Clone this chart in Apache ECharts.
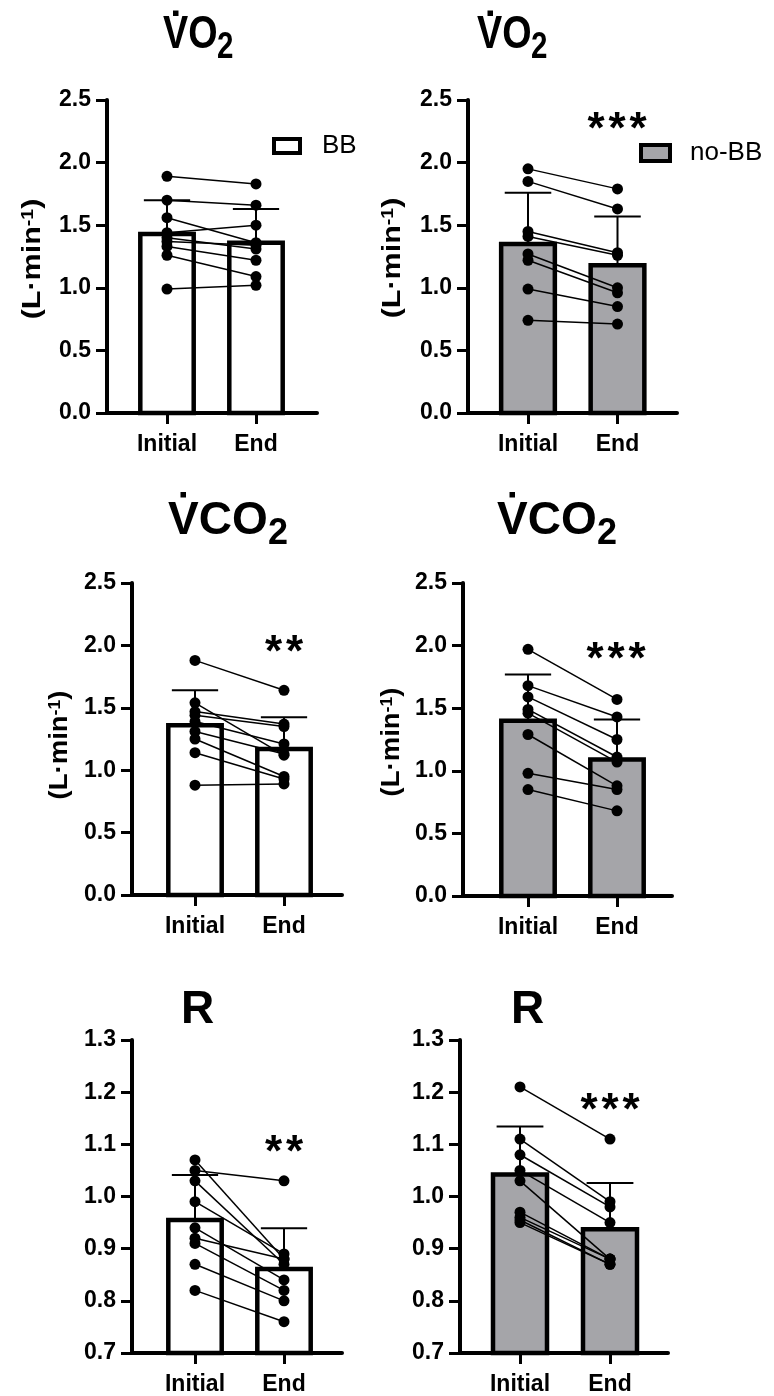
<!DOCTYPE html>
<html>
<head>
<meta charset="utf-8">
<script src="https://cdn.jsdelivr.net/npm/echarts@6/dist/echarts.min.js"></script>
<style>
  html, body { margin: 0; padding: 0; background: #fff; }
  #chart { width: 774px; height: 1396px; }
</style>
</head>
<body>
<div id="chart"></div>
<script>
// Group labels on the x axis
const categories = ['Initial', 'End'];

// V̇O2 (L·min-1), beta-blocker group
const bbVO2Initial = [1.89, 1.70, 1.56, 1.44, 1.40, 1.37, 1.33, 1.26, 0.99];
const bbVO2End     = [1.83, 1.66, 1.36, 1.50, 1.31, 1.34, 1.22, 1.09, 1.02];
const bbVO2Mean    = [1.43, 1.36];
const bbVO2SD      = [0.27, 0.27];

// V̇O2 (L·min-1), no beta-blocker group
const noBbVO2Initial = [1.95, 1.85, 1.45, 1.41, 1.27, 1.22, 0.99, 0.74];
const noBbVO2End     = [1.79, 1.63, 1.28, 1.26, 1.00, 0.96, 0.85, 0.71];
const noBbVO2Mean    = [1.35, 1.18];
const noBbVO2SD      = [0.41, 0.39];

// V̇CO2 (L·min-1), beta-blocker group
const bbVCO2Initial = [1.88, 1.54, 1.47, 1.44, 1.39, 1.31, 1.25, 1.14, 0.88];
const bbVCO2End     = [1.64, 1.12, 1.37, 1.35, 1.21, 1.13, 0.95, 0.93, 0.89];
const bbVCO2Mean    = [1.36, 1.17];
const bbVCO2SD      = [0.28, 0.255];

// V̇CO2 (L·min-1), no beta-blocker group
const noBbVCO2Initial = [1.97, 1.68, 1.59, 1.49, 1.46, 1.29, 0.98, 0.85];
const noBbVCO2End     = [1.57, 1.43, 1.25, 1.11, 1.07, 0.88, 0.85, 0.68];
const noBbVCO2Mean    = [1.40, 1.09];
const noBbVCO2SD      = [0.37, 0.32];

// Respiratory exchange ratio R, beta-blocker group
const bbRInitial = [1.07, 1.05, 1.03, 0.99, 0.94, 0.92, 0.91, 0.87, 0.82];
const bbREnd     = [0.88, 1.03, 0.87, 0.89, 0.84, 0.88, 0.82, 0.80, 0.76];
const bbRMean    = [0.955, 0.861];
const bbRSD      = [0.086, 0.078];

// Respiratory exchange ratio R, no beta-blocker group
const noBbRInitial = [1.21, 1.11, 1.08, 1.05, 1.03, 0.97, 0.96, 0.955, 0.95];
const noBbREnd     = [1.11, 0.99, 0.98, 0.95, 0.88, 0.88, 0.88, 0.87, 0.87];
const noBbRMean    = [1.042, 0.937];
const noBbRSD      = [0.092, 0.089];

// Y axis ranges
const volAxis = { min: 0, max: 2.5, interval: 0.5 };
const rAxis   = { min: 0.7, max: 1.3, interval: 0.1 };

const FONT = '"Liberation Sans", Arial, Helvetica, sans-serif';
const WHITE = '#ffffff';
const GREY = '#a5a5a9';

const panels = [
  { ini: bbVO2Initial,   end: bbVO2End,   mean: bbVO2Mean,   sd: bbVO2SD,   fill: WHITE, axis: volAxis,
    box: { left: 107, right: 317, top: 100, bottom: 413, c1: 167, c2: 256 } },
  { ini: noBbVO2Initial, end: noBbVO2End, mean: noBbVO2Mean, sd: noBbVO2SD, fill: GREY,  axis: volAxis,
    box: { left: 468, right: 677, top: 100, bottom: 413, c1: 528, c2: 617.5 } },
  { ini: bbVCO2Initial,  end: bbVCO2End,  mean: bbVCO2Mean,  sd: bbVCO2SD,  fill: WHITE, axis: volAxis,
    box: { left: 132, right: 342, top: 583, bottom: 895, c1: 195, c2: 284 } },
  { ini: noBbVCO2Initial,end: noBbVCO2End,mean: noBbVCO2Mean,sd: noBbVCO2SD,fill: GREY,  axis: volAxis,
    box: { left: 463, right: 672, top: 583, bottom: 896, c1: 528, c2: 617 } },
  { ini: bbRInitial,     end: bbREnd,     mean: bbRMean,     sd: bbRSD,     fill: WHITE, axis: rAxis,
    box: { left: 132, right: 342, top: 1040, bottom: 1353, c1: 195, c2: 284 } },
  { ini: noBbRInitial,   end: noBbREnd,   mean: noBbRMean,   sd: noBbRSD,   fill: GREY,  axis: rAxis,
    box: { left: 460, right: 668, top: 1040, bottom: 1353, c1: 520, c2: 610 } }
];

const grid = [], xAxis = [], yAxis = [], series = [];

panels.forEach((p, i) => {
  const b = p.box;
  const unit = b.c2 - b.c1;
  grid.push({ left: b.left, top: b.top, width: b.right - b.left, height: b.bottom - b.top, containLabel: false });

  xAxis.push({
    type: 'value', gridIndex: i,
    min: -(b.c1 - b.left) / unit,
    max: 1 + (b.right - b.c2) / unit,
    axisLine: { show: true, onZero: false, lineStyle: { color: '#000', width: 4 } },
    axisTick: { show: true, customValues: [0, 1], length: 11, lineStyle: { color: '#000', width: 3 } },
    axisLabel: {
      customValues: [0, 1],
      formatter: v => categories[Math.round(v)],
      color: '#000', fontFamily: FONT, fontWeight: 'bold', fontSize: 23, margin: 20
    },
    splitLine: { show: false }
  });

  yAxis.push({
    type: 'value', gridIndex: i,
    min: p.axis.min, max: p.axis.max, interval: p.axis.interval,
    axisLine: { show: true, onZero: false, lineStyle: { color: '#000', width: 4 } },
    axisTick: { show: true, length: 11, lineStyle: { color: '#000', width: 3 } },
    axisLabel: {
      formatter: v => v.toFixed(1),
      color: '#000', fontFamily: FONT, fontWeight: 'bold', fontSize: 23, margin: 16
    },
    splitLine: { show: false }
  });

  const yMin = p.axis.min;
  const fill = p.fill;

  // Mean bars with an upper SD whisker
  series.push({
    type: 'custom', xAxisIndex: i, yAxisIndex: i, z: 2,
    dimensions: ['x', 'mean', 'sd'],
    encode: { x: 0, y: 1 },
    data: p.mean.map((m, k) => [k, m, p.sd[k]]),
    renderItem: (params, api) => {
      const x = api.value(0), m = api.value(1), sd = api.value(2);
      const top = api.coord([x, m]);
      const base = api.coord([x, yMin]);
      const tip = api.coord([x, m + sd]);
      const hw = api.size([0.3, 0])[0];
      const cw = api.size([0.26, 0])[0];
      return {
        type: 'group',
        children: [
          { type: 'line', shape: { x1: top[0], y1: top[1], x2: tip[0], y2: tip[1] },
            style: { stroke: '#000', lineWidth: 2 } },
          { type: 'line', shape: { x1: tip[0] - cw, y1: tip[1], x2: tip[0] + cw, y2: tip[1] },
            style: { stroke: '#000', lineWidth: 2 } },
          { type: 'rect', shape: { x: top[0] - hw, y: top[1], width: 2 * hw, height: base[1] - top[1] },
            style: { fill: fill, stroke: '#000', lineWidth: 4.5 } }
        ]
      };
    },
    silent: true
  });

  // Paired lines for each subject
  p.ini.forEach((v, k) => {
    series.push({
      type: 'line', xAxisIndex: i, yAxisIndex: i, z: 3,
      data: [[0, v], [1, p.end[k]]],
      symbol: 'none', silent: true,
      lineStyle: { color: '#000', width: 1.5, opacity: 1 }
    });
  });

  // Individual values
  series.push({
    type: 'scatter', xAxisIndex: i, yAxisIndex: i, z: 4,
    data: p.ini.map(v => [0, v]).concat(p.end.map(v => [1, v])),
    symbol: 'circle', symbolSize: 11, silent: true,
    itemStyle: { color: '#000', opacity: 1 }
  });
});

// Panel titles: V̇O2, V̇CO2 and R with the dot over V and subscript 2
function title(t) {
  const sx = t.scaleX || 1;
  const els = [{
    type: 'text', x: t.x, y: t.y, scaleX: sx,
    style: { text: t.main, fill: '#000', font: 'bold 46px ' + FONT, textAlign: 'left', textVerticalAlign: 'middle' }
  }];
  if (t.subX) {
    els.push({
      type: 'text', x: t.subX, y: t.y + 13, scaleX: sx,
      style: { text: '2', fill: '#000', font: 'bold 36px ' + FONT, textAlign: 'left', textVerticalAlign: 'middle' }
    });
  }
  if (t.dot) {
    els.push({ type: 'rect', shape: { x: t.dot[0], y: t.dot[1], width: 5.5, height: 5.5 }, style: { fill: '#000' } });
  }
  return els;
}

function unitLabel(cx, cy, stretch) {
  return {
    type: 'text', x: cx, y: cy, rotation: Math.PI / 2, scaleX: stretch,
    style: {
      text: '(L·min{sup|-1})',
      fill: '#000', font: 'bold 25px ' + FONT,
      textAlign: 'center', textVerticalAlign: 'middle',
      rich: { sup: { fontSize: 16, fontWeight: 'bold', fontFamily: FONT, verticalAlign: 'top', fill: '#000' } }
    }
  };
}

// Significance marks, one asterisk per glyph so they can be spaced out
function stars(cx, cy, n) {
  const gap = 21;
  const out = [];
  for (let k = 0; k < n; k++) {
    out.push({
      type: 'text', x: cx + (k - (n - 1) / 2) * gap, y: cy,
      style: { text: '*', fill: '#000', font: 'bold 44px ' + FONT, textAlign: 'center', textVerticalAlign: 'middle' }
    });
  }
  return out;
}

const graphic = [].concat(
  title({ x: 163, y: 35, main: 'VO', subX: 217, scaleX: 0.82, dot: [173, 10.5] }),
  title({ x: 477, y: 35, main: 'VO', subX: 531, scaleX: 0.82, dot: [487.5, 10.5] }),
  title({ x: 168, y: 521, main: 'VCO', subX: 268, dot: [180.5, 492] }),
  title({ x: 497, y: 521, main: 'VCO', subX: 597, dot: [509.5, 492] }),
  title({ x: 181, y: 1010, main: 'R' }),
  title({ x: 511, y: 1010, main: 'R' }),
  [
    unitLabel(33, 259, 1.22),
    unitLabel(393, 258, 1.22),
    unitLabel(60, 745, 1.1),
    unitLabel(392, 742, 1.1)
  ],
  stars(617, 131, 3),
  stars(284, 654, 2),
  stars(616, 661, 3),
  stars(284, 1154, 2),
  stars(610, 1112, 3),
  [
    // Group keys
    { type: 'rect', shape: { x: 274, y: 139, width: 26, height: 14 }, style: { fill: WHITE, stroke: '#000', lineWidth: 4 } },
    { type: 'text', x: 322, y: 146, style: { text: 'BB', fill: '#000', font: '26px ' + FONT, textVerticalAlign: 'middle' } },
    { type: 'rect', shape: { x: 641, y: 145, width: 29, height: 16 }, style: { fill: GREY, stroke: '#000', lineWidth: 4 } },
    { type: 'text', x: 690, y: 153, style: { text: 'no-BB', fill: '#000', font: '26px ' + FONT, textVerticalAlign: 'middle' } }
  ]
);

const chart = echarts.init(document.getElementById('chart'), null, { renderer: 'canvas' });
chart.setOption({
  backgroundColor: '#ffffff',
  animation: false,
  grid, xAxis, yAxis, series, graphic
});
</script>
</body>
</html>
